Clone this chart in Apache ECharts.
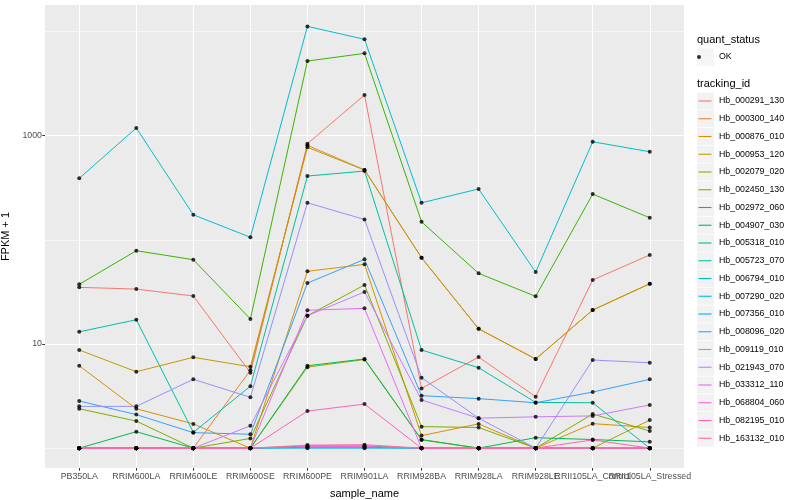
<!DOCTYPE html>
<html>
<head>
<meta charset="utf-8">
<script src="https://cdn.jsdelivr.net/npm/echarts@6.0.0/dist/echarts.min.js"></script>
<style>html,body{margin:0;padding:0;background:#fff}#c{width:800px;height:500px}</style>
</head>
<body>
<div id="c"></div>
<script>
const categories = ['PB350LA','RRIM600LA','RRIM600LE','RRIM600SE','RRIM600PE','RRIM901LA','RRIM928BA','RRIM928LA','RRIM928LE','RRII105LA_Control','RRII105LA_Stressed'];
const yLabelTicks = [10, 1000];
const yMinorTicks = [1, 100, 10000];
const trackingIds = ['Hb_000291_130','Hb_000300_140','Hb_000876_010','Hb_000953_120','Hb_002079_020','Hb_002450_130','Hb_002972_060','Hb_004907_030','Hb_005318_010','Hb_005723_070','Hb_006794_010','Hb_007290_020','Hb_007356_010','Hb_008096_020','Hb_009119_010','Hb_021943_070','Hb_033312_110','Hb_068804_060','Hb_082195_010','Hb_163132_010'];
const quantStatus = ['OK'];

const hb_000291_130 = [35.0, 33.7, 28.9, 5.3, 838, 2460, 3.75, 7.5, 3.12, 41.2, 71.6];
const hb_000300_140 = [1, 1, 1, 5.6, 809, 470, 67.4, 14.0, 7.18, 21.2, 37.9];
const hb_000876_010 = [6.19, 2.39, 1.71, 1, 49.9, 58.2, 1.32, 1.71, 1, 1.72, 1.58];
const hb_000953_120 = [8.76, 5.42, 7.45, 6.05, 774, 469, 67.4, 14.0, 7.18, 21.2, 37.9];
const hb_002079_020 = [1, 1, 1, 1, 6.0, 7.1, 1.2, 1, 1, 1, 1.86];
const hb_002450_130 = [2.39, 1.82, 1, 1.24, 18.7, 36.9, 1.61, 1.58, 1, 2.13, 1.46];
const hb_002972_060 = [37.4, 78.7, 64.5, 17.4, 5210, 6180, 149, 47.7, 28.7, 275, 163];
const hb_004907_030 = [1, 1.44, 1, 1, 6.19, 7.18, 1.21, 1, 1.26, 1.21, 1.15];
const hb_005318_010 = [1, 1, 1, 1, 1.05, 1.05, 1, 1, 1, 1, 1];
const hb_005723_070 = [13.1, 17.1, 1.42, 3.93, 410, 458, 8.76, 5.92, 2.75, 2.73, 1];
const hb_006794_010 = [390, 1186, 174, 106, 11220, 8430, 227, 308, 49.1, 875, 702];
const hb_007290_020 = [1, 1, 1, 1, 1.02, 1.02, 1, 1, 1, 1, 1];
const hb_007356_010 = [1, 1, 1, 1, 1.0, 1.0, 1, 1, 1, 1, 1];
const hb_008096_020 = [2.84, 2.10, 1.41, 1.36, 38.5, 65.0, 3.19, 2.99, 2.73, 3.46, 4.58];
const hb_009119_010 = [2.52, 2.52, 4.58, 3.08, 227, 157, 4.75, 1.94, 1, 7.02, 6.61];
const hb_021943_070 = [1, 1, 1, 1.64, 18.7, 31.6, 2.90, 1.94, 2.0, 2.04, 2.6];
const hb_033312_110 = [1, 1, 1, 1, 21.1, 22.0, 1, 1, 1, 1, 1];
const hb_068804_060 = [1, 1, 1, 1, 1.04, 1.04, 1, 1, 1, 1, 1];
const hb_082195_010 = [1, 1, 1, 1, 2.27, 2.65, 1, 1, 1, 1.2, 1];
const hb_163132_010 = [1, 1, 1, 1, 1.07, 1.08, 1, 1, 1, 1, 1];

const seriesValues = [hb_000291_130, hb_000300_140, hb_000876_010, hb_000953_120, hb_002079_020, hb_002450_130, hb_002972_060, hb_004907_030, hb_005318_010, hb_005723_070, hb_006794_010, hb_007290_020, hb_007356_010, hb_008096_020, hb_009119_010, hb_021943_070, hb_033312_110, hb_068804_060, hb_082195_010, hb_163132_010];

const palette = ['#F8766D','#EA8331','#D89000','#C09B00','#A3A500','#7CAE00','#39B600','#00BB4E','#00BF7D','#00C1A3','#00BFC4','#00BAE0','#00B0F6','#35A2FF','#9590FF','#C77CFF','#E76BF3','#FA62DB','#FF62BC','#FF6C91'];

const FONT = '"Liberation Sans", Arial, Helvetica, sans-serif';
const catIdx = categories.map((c, i) => i);
// labels split over two axes so the overlapping last two labels are both drawn
const catIdxA = catIdx.filter(i => i % 2 === 0);
const catIdxB = catIdx.filter(i => i % 2 === 1);

const lineSeries = trackingIds.map((id, k) => ({
  name: id, type: 'line', symbol: 'none', showSymbol: false, silent: true,
  xAxisIndex: 0, yAxisIndex: 0,
  data: seriesValues[k].map((v, i) => [i, v]),
  lineStyle: { width: 1, color: palette[k] }, itemStyle: { color: palette[k] },
  z: 2, animation: false
}));
const pointData = [];
seriesValues.forEach(arr => arr.forEach((v, i) => pointData.push([i, v])));
const pointSeries = {
  name: 'OK', type: 'scatter', symbol: 'circle', symbolSize: 4, silent: true,
  xAxisIndex: 0, yAxisIndex: 0,
  data: pointData, itemStyle: { color: '#000' }, z: 3, animation: false
};

const xLabelStyle = { formatter: v => categories[Math.round(v)], fontSize: 8.8, color: '#4D4D4D', margin: 4, fontFamily: FONT, hideOverlap: false, showMinLabel: true, showMaxLabel: true };

const chart = echarts.init(document.getElementById('c'), null, { renderer: 'canvas' });
chart.setOption({
  animation: false,
  backgroundColor: '#fff',
  textStyle: { fontFamily: FONT },
  title: [
    { text: 'quant_status', left: 697, top: 34, padding: 0, textStyle: { fontSize: 11, fontWeight: 'normal', color: '#000', fontFamily: FONT } },
    { text: 'tracking_id', left: 697, top: 78, padding: 0, textStyle: { fontSize: 11, fontWeight: 'normal', color: '#000', fontFamily: FONT } }
  ],
  grid: { left: 45, top: 5, right: 116, bottom: 32, show: true, backgroundColor: '#EBEBEB', borderWidth: 0, containLabel: false, outerBoundsMode: 'none' },
  xAxis: [
    {
      type: 'value', min: -0.6, max: 10.6, position: 'bottom',
      name: 'sample_name', nameLocation: 'middle', nameGap: 20,
      nameTextStyle: { fontSize: 11, color: '#000', fontFamily: FONT },
      axisLine: { show: false, onZero: false },
      axisTick: { show: true, customValues: catIdx, length: 2.7, lineStyle: { color: '#333', width: 1 } },
      axisLabel: Object.assign({ customValues: catIdxA }, xLabelStyle),
      splitLine: { show: true, lineStyle: { color: '#fff', width: 1.1 } }
    },
    {
      type: 'value', min: -0.6, max: 10.6, position: 'bottom', offset: 0,
      axisLine: { show: false, onZero: false },
      axisTick: { show: false, customValues: catIdxB },
      axisLabel: Object.assign({ customValues: catIdxB }, xLabelStyle),
      splitLine: { show: false }
    }
  ],
  yAxis: [
    {
      type: 'log', logBase: 10, min: 0.645, max: 18000,
      name: 'FPKM + 1', nameLocation: 'middle', nameGap: 33,
      nameTextStyle: { fontSize: 11, color: '#000', fontFamily: FONT },
      axisLine: { show: false, onZero: false },
      axisTick: { show: true, customValues: yLabelTicks, length: 2.7, lineStyle: { color: '#333', width: 1 } },
      axisLabel: { customValues: yLabelTicks, formatter: v => String(Math.round(v)), fontSize: 8.8, color: '#4D4D4D', margin: 3, fontFamily: FONT, showMinLabel: true, showMaxLabel: true },
      splitLine: { show: true, lineStyle: { color: '#fff', width: 1.1 } }
    },
    {
      type: 'log', logBase: 10, min: 0.645, max: 18000, position: 'left',
      axisLine: { show: false, onZero: false },
      axisTick: { show: false, customValues: yMinorTicks },
      axisLabel: { show: false },
      splitLine: { show: true, lineStyle: { color: '#fff', width: 0.55 } }
    }
  ],
  legend: [
    {
      data: quantStatus, orient: 'vertical', left: 697, top: 48.5, padding: 0,
      icon: 'rect', itemWidth: 17, itemHeight: 17, itemGap: 0.75, selectedMode: false,
      itemStyle: { color: '#F2F2F2', borderWidth: 0 },
      textStyle: { fontSize: 8.8, color: '#000', lineHeight: 17, fontFamily: FONT }
    },
    {
      data: quantStatus, orient: 'vertical', left: 697, top: 48.5, padding: 0,
      icon: 'circle', itemWidth: 17, itemHeight: 4, itemGap: 0.75, selectedMode: false,
      itemStyle: { color: '#000', borderWidth: 0 },
      textStyle: { fontSize: 8.8, color: 'rgba(0,0,0,0)', lineHeight: 17, fontFamily: FONT }
    },
    {
      data: trackingIds, orient: 'vertical', left: 697, top: 92.5, padding: 0,
      icon: 'rect', itemWidth: 17, itemHeight: 17, itemGap: 0.75, selectedMode: false,
      itemStyle: { color: '#F2F2F2', borderWidth: 0 },
      textStyle: { fontSize: 8.8, color: '#000', lineHeight: 17, fontFamily: FONT }
    },
    {
      data: trackingIds, orient: 'vertical', left: 698.5, top: 92.5, padding: 0,
      icon: 'rect', itemWidth: 13, itemHeight: 1.1, itemGap: 0.75, selectedMode: false,
      itemStyle: { borderWidth: 0 },
      textStyle: { fontSize: 8.8, color: 'rgba(0,0,0,0)', lineHeight: 17, fontFamily: FONT }
    }
  ],
  series: lineSeries.concat([pointSeries])
});
</script>
</body>
</html>
